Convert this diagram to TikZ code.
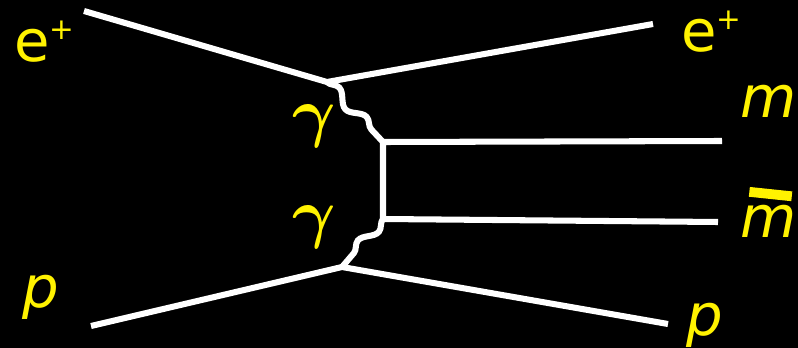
\documentclass[tikz,border=0pt]{standalone}
\usepackage{fontspec}
\setmainfont{DejaVu Sans}
\usetikzlibrary{decorations.pathmorphing}

\newcommand{\plussup}{\raisebox{16pt}{\fontsize{21}{21}\selectfont\upshape +}}
\newcommand{\biggamma}{\scalebox{1.9}{\boldmath$\gamma$}}

\begin{document}
\begin{tikzpicture}[
  x=0.025cm, y=-0.025cm,
  fermion/.style={draw=white, line width=4.3pt},
  photon/.style={draw=white, line width=4.3pt, decorate,
                 decoration={snake, segment length=1.0cm, amplitude=0.13cm}},
  lbl/.style={text=yellow, inner sep=0pt, anchor=base west,
              font=\fontsize{41}{41}\selectfont\itshape},
  glbl/.style={text=yellow, inner sep=0pt, anchor=base west,
               font=\fontsize{24.88}{24.88}\selectfont}
]
\fill[black] (0,0) rectangle (798,348);

% Vertices
\coordinate (vtop) at (327,82);
\coordinate (vbot) at (342,267);
\coordinate (qtop) at (383,142);
\coordinate (qbot) at (383,219);

% Outer ends
\coordinate (einl) at (84,11);
\coordinate (eout) at (653,24);
\coordinate (pinl) at (91,326);
\coordinate (pout) at (668,324);
\coordinate (mend) at (722,141);
\coordinate (mbend) at (718,222);

% Labels
\node[lbl, font=\fontsize{41}{41}\selectfont] (eL) at (14,62) {e\plussup};
\node[lbl, font=\fontsize{41}{41}\selectfont] (eR) at (681,52) {e\plussup};
\node[lbl] (mL) at (740,118) {m};
\node[lbl] (mbL) at (740,238)
  {\rlap{\kern3pt\rotatebox{-6}{\rule[0.72em]{0.74em}{0.17em}}}m};
\node[lbl] (pL) at (22,307) {p};
\node[lbl] (pR) at (686,335) {p};
\node[glbl] (gT) at (292,135) {\biggamma};
\node[glbl] (gB) at (292,235) {\biggamma};

% Lines
\draw[fermion] (einl) -- (vtop) -- (eout);
\draw[fermion] (pinl) -- (vbot) -- (pout);
\draw[fermion] (mend) -- (qtop) -- (qbot) -- (mbend);
\draw[photon] (vtop) -- (qtop);
\draw[photon] (qbot) -- (vbot);
\end{tikzpicture}
\end{document}
